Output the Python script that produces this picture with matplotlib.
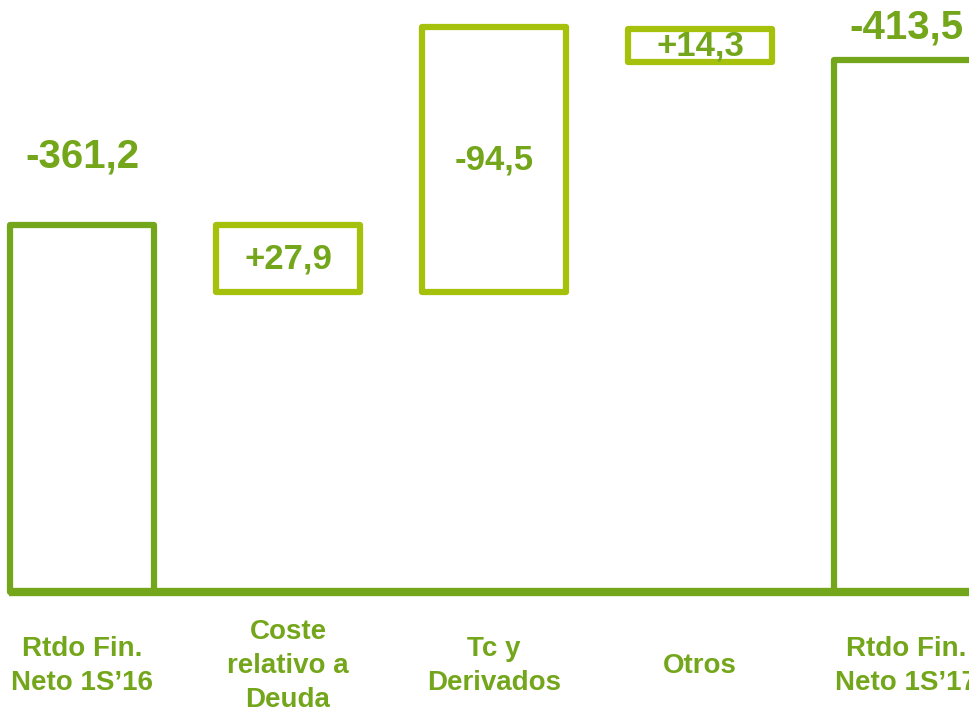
import matplotlib
matplotlib.use("Agg")
import matplotlib.pyplot as plt

plt.rcParams['font.family'] = ['Liberation Sans', 'DejaVu Sans']

# waterfall: net financial result 1S'16 -> 1S'17
categories = ["Rtdo Fin.\nNeto 1S\u201916", "Coste\nrelativo a\nDeuda", "Tc y\nDerivados",
              "Otros", "Rtdo Fin.\nNeto 1S\u201917"]
values = [-361.2, 27.9, -94.5, 14.3, -413.5]
is_total = [True, False, False, False, True]

# bar extents as drawn in the slide (not to scale in the original)
bar_bottom = [0, 233.2, 233.2, 412.0, 0]
bar_top = [285.3, 285.3, 439.2, 437.6, 413.5]

dark = "#74a61b"
light = "#a5c10c"

fig = plt.figure(figsize=(9.7, 7.14), dpi=100)
ax = fig.add_axes([0, 0, 1, 1])

x = list(range(len(categories)))
heights = [t - b for t, b in zip(bar_top, bar_bottom)]
edge = [dark if t else light for t in is_total]
ax.bar(x, heights, bottom=bar_bottom, width=0.7, fill=False,
       edgecolor=edge, linewidth=4.5, joinstyle='round', zorder=2)

# baseline
ax.plot([-0.355, 5], [0, 0], color=dark, linewidth=6, solid_capstyle='butt', zorder=3)

def fmt(v):
    s = f"{v:+.1f}" if v > 0 else f"{v:.1f}"
    return s.replace('.', ',')

label_pad = [36, 0, 0, 0, 10]
for i, v in enumerate(values):
    if is_total[i]:
        ax.annotate(fmt(v), (x[i], bar_top[i]), xytext=(0, label_pad[i]),
                    textcoords='offset points', ha='center', va='bottom',
                    fontsize=29, fontweight='bold', color=dark)
    else:
        ax.text(x[i], (bar_top[i] + bar_bottom[i]) / 2, fmt(v), ha='center', va='center',
                fontsize=25, fontweight='bold', color=dark)

for i, c in enumerate(categories):
    ax.text(x[i], -57.5, c, ha='center', va='center', fontsize=20,
            fontweight='bold', color=dark, linespacing=1.4)

ax.set_xlim(-0.398, 4.311)
ax.set_ylim(-94.8, 460.2)
ax.axis('off')

fig.savefig("out.png", dpi=100)
